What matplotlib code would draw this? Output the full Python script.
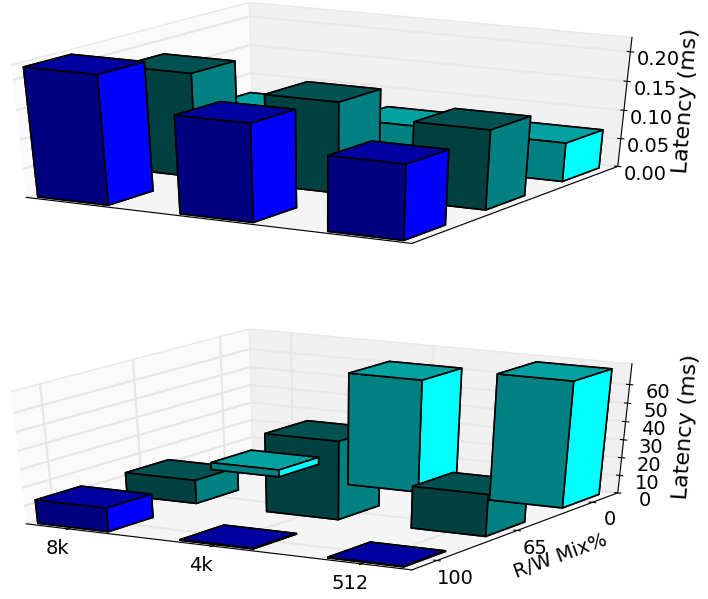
import matplotlib
matplotlib.use('Agg')
import matplotlib.pyplot as plt
from matplotlib.colors import to_rgb
import numpy as np

#Data, one row per mix (100, 65, 0), one col per size (8k, 4k, 512)
mix_labels = ['100', '65', '0']
size_labels = ['8k', '4k', '512']
read_latency = [[0.22, 0.167, 0.128],
                [0.18, 0.157, 0.137],
                [0.07, 0.07, 0.068]]
write_latency = [[13, 0.3, 0.3],
                 [13, 43, 23],
                 [4, 62, 69]]
row_colors = ['#0000ff', '#008080', '#00ffff']

#Painter order (row, col), the lower panel overlaps differently
read_order = [(2, 0), (2, 1), (2, 2), (1, 0), (1, 1), (1, 2), (0, 0), (0, 1), (0, 2)]
write_order = [(1, 0), (1, 1), (2, 0), (2, 1), (1, 2), (2, 2), (0, 0), (0, 1), (0, 2)]

plt.rcParams['font.family'] = 'DejaVu Sans'
plt.rcParams['font.size'] = 14

fig = plt.figure(figsize=(7.08, 5.99), dpi=100)


def faces(name):
    #bottom, top, front, back, left, right
    c = np.array(to_rgb(name))
    return [c * 0.5, c * 0.63, c * 0.5, c * 0.5, c * 0.5, c]


def draw(rect, values, order, zmax, zticks):
    ax = fig.add_axes(rect, projection='3d')
    ax.apply_aspect = lambda position=None: None  #fill the whole rect
    ax.computed_zorder = False
    ax.set_box_aspect((1, 1, 0.90), zoom=0.98)
    for n, (r, c) in enumerate(order):
        ax.bar3d(c, r, 0, 0.5, 0.5, values[r][c], color=faces(row_colors[r]),
                 edgecolor='k', linewidth=1.2, shade=False, zorder=n + 2)
    ax.set_xlim(-0.05, 2.58)
    ax.set_ylim(-0.05, 2.6)
    ax.set_zlim(0, zmax)
    ax.set_zticks(zticks)
    ax.zaxis.set_rotate_label(False)
    ax.set_zlabel('Latency (ms)', rotation=86, labelpad=-1, fontsize=16)
    ax.view_init(elev=29, azim=-60)
    ax.tick_params(pad=1)
    ax.xaxis.set_pane_color('#fafafa')
    ax.yaxis.set_pane_color('#f0f0f0')
    ax.zaxis.set_pane_color('#f5f5f5')
    for axis in (ax.xaxis, ax.yaxis, ax.zaxis):
        axis.pane.set_edgecolor('#e8e8e8')
        axis._axinfo['grid'].update(color='#e6e6e6', linewidth=1.5)
        axis._axinfo['tick']['inward_factor'] = 0.1
        axis._axinfo['tick']['outward_factor'] = 0.1
    return ax


ax1 = draw([-0.072, 0.567, 1.04, 0.46], read_latency, read_order, 0.224,
           [0, 0.05, 0.1, 0.15, 0.2])
ax1.set_zticklabels(['0.00', '0.05', '0.10', '0.15', '0.20'])
ax1.set_xticks([])
ax1.set_yticks([])

ax2 = draw([-0.072, 0.022, 1.04, 0.46], write_latency, write_order, 71,
           [0, 10, 20, 30, 40, 50, 60])
ax2.set_xticks([0.25, 1.25, 2.25])
ax2.set_xticklabels(size_labels)
ax2.set_yticks([0.25, 1.25, 2.25])
ax2.set_yticklabels(mix_labels)

#axis label sits closer to the ticks than set_ylabel allows
fig.text(0.792, 0.072, 'R/W Mix%', rotation=20, ha='center', va='center')

fig.savefig('out.png', dpi=100)
